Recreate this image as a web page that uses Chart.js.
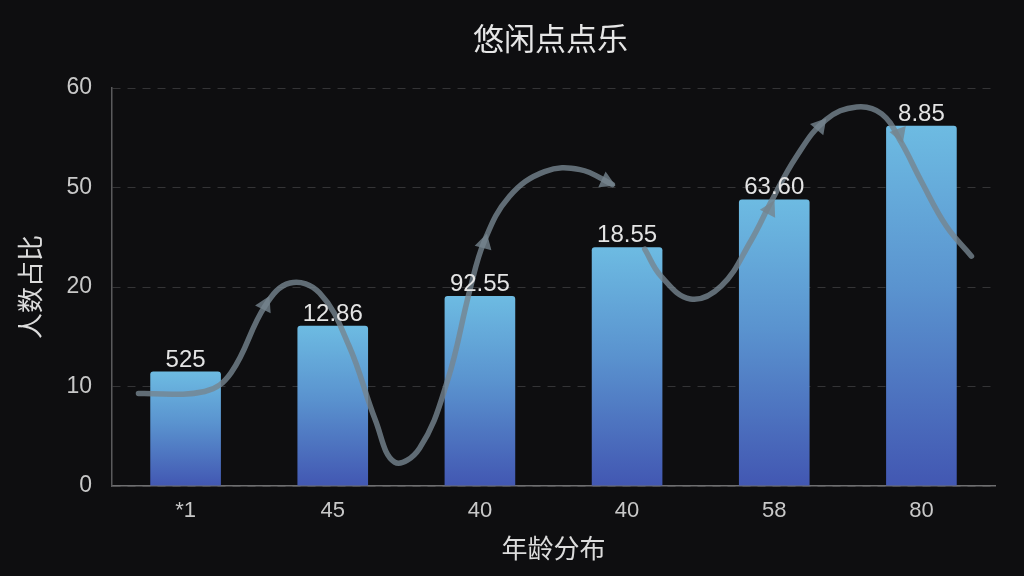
<!DOCTYPE html>
<html>
<head>
<meta charset="utf-8">
<script src="https://cdn.jsdelivr.net/npm/chart.js@4/dist/chart.umd.min.js"></script>
<style>
  html, body { margin: 0; padding: 0; background: #0e0e10; }
  #wrap { width: 1024px; height: 576px; }
</style>
</head>
<body>
<div id="wrap"><canvas id="chart" width="1024" height="576"></canvas></div>
<script>
// chart data
const chartTitle = '悠闲点点乐';
const xTitle = '年龄分布';
const yTitle = '人数占比';
const xLabels = ['*1', '45', '40', '40', '58', '80'];
const yTickLabels = ['0', '10', '20', '50', '60']; // evenly spaced on the axis
const barHeights = [1.15, 1.61, 1.91, 2.40, 2.88, 3.62]; // in axis steps
const barTexts = ['525', '12.86', '92.55', '18.55', '63.60', '8.85'];

// decorative curve (x in category index units, y in axis steps), null = gap
const curveX = [-0.32, 0.13, 0.31, 0.54, 0.71, 0.91, 1.11, 1.29, 1.42, 1.59, 1.78, 1.93, 2.03, 2.20, 2.44, 2.68, 2.90,
                null,
                3.12, 3.23, 3.43, 3.64, 3.84, 3.98, 4.15, 4.35, 4.56, 4.73, 4.86, 5.00, 5.17, 5.34];
const curveY = [0.93, 0.95, 1.14, 1.81, 2.04, 1.94, 1.41, 0.66, 0.24, 0.38, 1.06, 1.96, 2.46, 2.91, 3.16, 3.18, 3.03,
                null,
                2.38, 2.11, 1.88, 2.01, 2.46, 2.86, 3.31, 3.68, 3.81, 3.74, 3.46, 3.06, 2.61, 2.31];

// arrow heads on the curve
const arrowX = [0.54, 2.03, 2.86, 3.97, 4.31, 4.85];
const arrowY = [1.82, 2.44, 3.06, 2.78, 3.62, 3.54];
const arrowAngle = [26, 15, 115, 28, 40, 160];

const curveColor = 'rgba(118, 132, 142, 0.8)';
const fontFamily = '"Liberation Sans", "Noto Sans CJK SC", sans-serif';

const curvePoints = curveX.map((x, i) => x === null ? { x: null, y: null } : { x: x, y: curveY[i] });
const arrowPoints = arrowX.map((x, i) => ({ x: x, y: arrowY[i] }));

function barGradient(context) {
  const chart = context.chart;
  const yScale = chart.scales.y;
  if (!chart.chartArea || !yScale) return '#5b9bd5';
  const value = context.raw;
  const top = yScale.getPixelForValue(value);
  const base = yScale.getPixelForValue(0);
  const g = chart.ctx.createLinearGradient(0, base, 0, top);
  g.addColorStop(0, '#4257b2');
  g.addColorStop(0.55, '#5a93cf');
  g.addColorStop(1, '#6dbbe2');
  return g;
}

// title centred over the plot area
const titlePlugin = {
  id: 'plotTitle',
  afterDraw(chart) {
    const { ctx, chartArea } = chart;
    ctx.save();
    ctx.font = '31px "Noto Sans CJK SC", sans-serif';
    ctx.fillStyle = '#e6e6e6';
    ctx.textAlign = 'center';
    ctx.textBaseline = 'middle';
    ctx.fillText(chartTitle, (chartArea.left + chartArea.right) / 2 - 3, 38);
    ctx.restore();
  }
};

// value text above each bar
const barTextPlugin = {
  id: 'barTexts',
  afterDatasetsDraw(chart) {
    const { ctx } = chart;
    const meta = chart.getDatasetMeta(2);
    ctx.save();
    ctx.font = '24px ' + fontFamily;
    ctx.fillStyle = '#e4e4e4';
    ctx.textAlign = 'center';
    ctx.textBaseline = 'alphabetic';
    meta.data.forEach((bar, i) => {
      ctx.fillText(barTexts[i], bar.x, bar.y - 5);
    });
    ctx.restore();
  }
};

const ctx = document.getElementById('chart').getContext('2d');
new Chart(ctx, {
  data: {
    labels: xLabels,
    datasets: [
      {
        type: 'scatter',
        xAxisID: 'xc',
        data: arrowPoints,
        pointStyle: 'triangle',
        pointRadius: 10,
        rotation: arrowAngle,
        backgroundColor: curveColor,
        borderWidth: 0,
        order: 0
      },
      {
        type: 'line',
        xAxisID: 'xc',
        data: curvePoints,
        borderColor: curveColor,
        borderWidth: 5.5,
        borderCapStyle: 'round',
        tension: 0.4,
        pointRadius: 0,
        spanGaps: false,
        fill: false,
        order: 1
      },
      {
        type: 'bar',
        data: barHeights,
        backgroundColor: barGradient,
        borderRadius: { topLeft: 3, topRight: 3 },
        borderSkipped: 'bottom',
        grouped: false,
        categoryPercentage: 1,
        barPercentage: 0.48,
        order: 2
      }
    ]
  },
  options: {
    responsive: false,
    animation: false,
    layout: { padding: { top: 88, right: 29, left: 0, bottom: 0 } },
    plugins: {
      legend: { display: false },
      tooltip: { enabled: false },
      title: { display: false }
    },
    scales: {
      x: {
        type: 'category',
        offset: true,
        grid: { display: false, drawTicks: false },
        border: { color: '#6e6e70', width: 1.5 },
        ticks: { color: '#c8c8c8', padding: 12, font: { size: 22, family: fontFamily } },
        title: { display: true, text: xTitle, color: '#dcdcdc', padding: { top: 0, bottom: 12 },
                 font: { size: 26, family: '"Noto Sans CJK SC", sans-serif' } },
        afterFit(scale) { scale.height = 90; }
      },
      xc: {
        type: 'linear',
        display: false,
        min: -0.5,
        max: 5.5
      },
      y: {
        min: 0,
        max: 4,
        ticks: {
          stepSize: 1,
          padding: 20,
          color: '#c8c8c8',
          font: { size: 23, family: fontFamily },
          callback: v => yTickLabels[v]
        },
        grid: { color: 'rgba(255,255,255,0.16)', drawTicks: false, lineWidth: 1 },
        border: { color: '#5a5a5c', width: 1.5, dash: [8, 7] },
        title: { display: true, text: yTitle, color: '#dcdcdc', padding: { top: 15, bottom: 0 },
                 font: { size: 26, family: '"Noto Sans CJK SC", sans-serif' } },
        afterFit(scale) { scale.width = 112; }
      }
    }
  },
  plugins: [titlePlugin, barTextPlugin]
});
</script>
</body>
</html>
